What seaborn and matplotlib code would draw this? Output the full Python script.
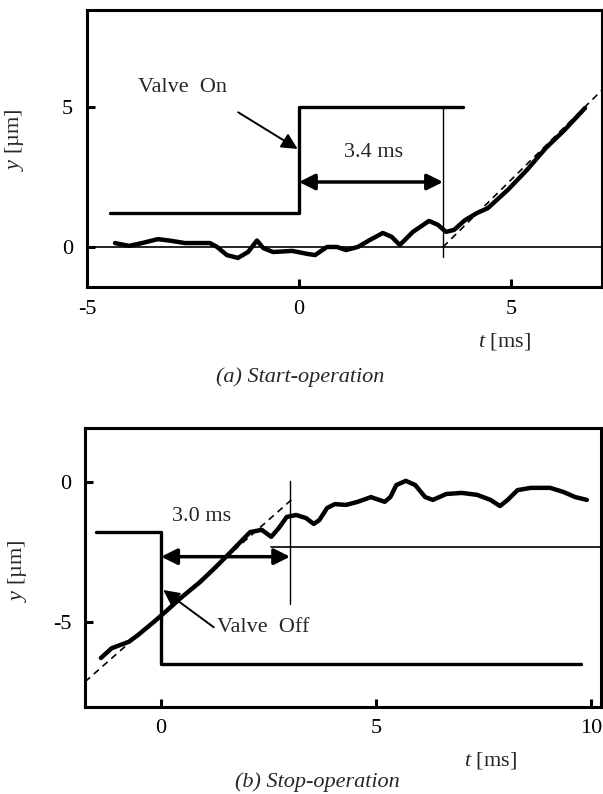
import matplotlib
matplotlib.use("Agg")
import matplotlib.pyplot as plt
import seaborn as sns
import pandas as pd

# ---- (a) start-operation -------------------------------------------------
start_t = [-4.34, -4.01, -3.70, -3.33, -3.06, -2.69, -2.10, -1.93, -1.70, -1.44,
           -1.20, -0.99, -0.84, -0.61, -0.16, 0.21, 0.38, 0.66, 0.90, 1.11,
           1.39, 1.65, 1.98, 2.19, 2.38, 2.69, 3.07, 3.28, 3.47, 3.66,
           3.92, 4.20, 4.46, 4.93, 5.38, 5.83, 6.27, 6.75]
start_y = [0.14, 0.04, 0.14, 0.28, 0.23, 0.14, 0.14, 0.00, -0.29, -0.39,
           -0.18, 0.23, -0.04, -0.18, -0.14, -0.25, -0.29, 0.00, 0.00, -0.11,
           0.00, 0.23, 0.50, 0.36, 0.07, 0.54, 0.93, 0.79, 0.54, 0.61,
           0.96, 1.21, 1.39, 2.04, 2.75, 3.54, 4.18, 4.96]
valve_on_t = [-4.46, 0.0, 0.0, 3.87]
valve_on_y = [1.21, 1.21, 5.0, 5.0]
delay_on = 3.4
fit_on_t = [3.4, 7.15]
fit_on_y = [0.0, 5.6]

# ---- (b) stop-operation --------------------------------------------------
stop_t = [-1.40, -1.15, -0.75, -0.53, -0.17, 0.10, 0.46, 0.91, 1.27, 1.62,
          1.89, 2.07, 2.34, 2.56, 2.74, 2.92, 3.14, 3.37, 3.55, 3.68,
          3.86, 4.04, 4.30, 4.57, 4.88, 5.20, 5.33, 5.47, 5.69, 5.91,
          6.14, 6.32, 6.63, 6.99, 7.35, 7.66, 7.88, 8.06, 8.29, 8.60,
          9.05, 9.36, 9.63, 9.90]
stop_y = [-6.29, -5.94, -5.71, -5.46, -5.00, -4.64, -4.14, -3.57, -3.04, -2.50,
          -2.07, -1.79, -1.71, -1.96, -1.64, -1.25, -1.18, -1.29, -1.50, -1.36,
          -0.93, -0.79, -0.82, -0.71, -0.54, -0.71, -0.54, -0.11, 0.04, -0.11,
          -0.54, -0.64, -0.43, -0.39, -0.46, -0.64, -0.86, -0.64, -0.29, -0.21,
          -0.21, -0.36, -0.54, -0.64]
valve_off_t = [-1.51, 0.0, 0.0, 9.77]
valve_off_y = [-1.79, -1.79, -6.50, -6.50]
delay_off = 3.0
fit_off_t = [-1.77, 3.05]
fit_off_y = [-7.14, -0.61]
settle_level = -2.32

sns.set_theme(style="ticks")
plt.rcParams.update({
    "font.family": ["Liberation Serif", "DejaVu Serif"],
    "mathtext.fontset": "custom",
    "mathtext.it": "Liberation Serif:italic",
    "mathtext.rm": "Liberation Serif",
    "axes.unicode_minus": False,
    "axes.linewidth": 2.2,
    "axes.edgecolor": "black",
    "xtick.direction": "in",
    "ytick.direction": "in",
    "xtick.major.size": 6,
    "ytick.major.size": 6,
    "xtick.major.width": 2.2,
    "ytick.major.width": 2.2,
    "xtick.major.pad": 9,
    "ytick.major.pad": 10,
    "xtick.labelsize": 16,
    "ytick.labelsize": 16,
    "xtick.color": "black",
    "ytick.color": "black",
})

fig = plt.figure(figsize=(6.03, 7.94), dpi=100)
ax1 = fig.add_axes([0.1443, 0.6385, 0.854, 0.3489])
ax2 = fig.add_axes([0.141, 0.1096, 0.8557, 0.3514])

K = "black"
TXT = 16


def curve(ax, t, y, lw, ls="-"):
    df = pd.DataFrame({"t": t, "y": y})
    sns.lineplot(data=df, x="t", y="y", ax=ax, color=K, lw=lw, ls=ls,
                 sort=False, estimator=None, solid_capstyle="round",
                 solid_joinstyle="round")


def double_arrow(ax, x0, x1, y):
    ax.annotate("", xy=(x1, y), xytext=(x0, y),
                arrowprops=dict(arrowstyle="<|-|>", color=K, lw=2.5,
                                mutation_scale=24, shrinkA=0, shrinkB=0))


# panel (a)
ax = ax1
ax.set_xlim(-5, 7.15)
ax.set_ylim(-1.43, 8.46)
ax.axhline(0, color=K, lw=1.2)
curve(ax, valve_on_t, valve_on_y, 2.4)
ax.plot([delay_on, delay_on], [5.0, -0.36], color=K, lw=1.0)
curve(ax, fit_on_t, fit_on_y, 1.2, ls=(0, (4, 3)))
curve(ax, start_t, start_y, 3.2)
double_arrow(ax, 0.0, delay_on, 2.32)
ax.text(1.75, 3.39, f"{delay_on:.1f} ms", fontsize=TXT, ha="center", va="center")
ax.annotate("Valve  On", xy=(-0.03, 3.5), xytext=(-2.74, 5.68),
            fontsize=TXT, ha="center", va="center",
            arrowprops=dict(arrowstyle="-|>", color=K, lw=1.4,
                            mutation_scale=24, shrinkA=16, shrinkB=0,
                            relpos=(0.85, 0.0)))
ax.set_xticks([-5, 0, 5])
ax.set_yticks([0, 5])
ax.set_xlabel(r"$t$ [ms]", fontsize=TXT)
ax.set_ylabel(r"$y$ [µm]", fontsize=TXT)
ax.xaxis.set_label_coords(0.81, -0.159)
ax.yaxis.set_label_coords(-0.118, 0.53)

# panel (b)
ax = ax2
ax.set_xlim(-1.77, 10.23)
ax.set_ylim(-8.04, 1.93)
curve(ax, valve_off_t, valve_off_y, 2.4)
ax.plot([delay_off, delay_off], [0.03, -4.36], color=K, lw=1.0)
ax.plot([2.56, 10.23], [settle_level, settle_level], color=K, lw=1.2)
curve(ax, fit_off_t, fit_off_y, 1.2, ls=(0, (4, 3)))
curve(ax, stop_t, stop_y, 3.2)
double_arrow(ax, 0.0, delay_off, -2.67)
ax.text(0.95, -1.25, f"{delay_off:.1f} ms", fontsize=TXT, ha="center", va="center")
ax.annotate("Valve  Off", xy=(0.05, -3.86), xytext=(1.3, -5.21),
            fontsize=TXT, ha="left", va="center",
            arrowprops=dict(arrowstyle="-|>", color=K, lw=1.4,
                            mutation_scale=24, shrinkA=0, shrinkB=0,
                            relpos=(0.0, 0.4)))
ax.set_xticks([0, 5, 10])
ax.set_yticks([-5, 0])
ax.set_xlabel(r"$t$ [ms]", fontsize=TXT)
ax.set_ylabel(r"$y$ [µm]", fontsize=TXT)
ax.xaxis.set_label_coords(0.785, -0.154)
ax.yaxis.set_label_coords(-0.108, 0.49)

for a in (ax1, ax2):
    for s in a.spines.values():
        s.set_visible(True)
        s.set_color(K)
    a.tick_params(top=False, right=False)

fig.text(0.4975, 0.525, "(a) Start-operation", fontsize=TXT, style="italic",
         ha="center", va="center")
fig.text(0.526, 0.015, "(b) Stop-operation", fontsize=TXT, style="italic",
         ha="center", va="center")

fig.savefig("out.png", dpi=100, facecolor="white")
